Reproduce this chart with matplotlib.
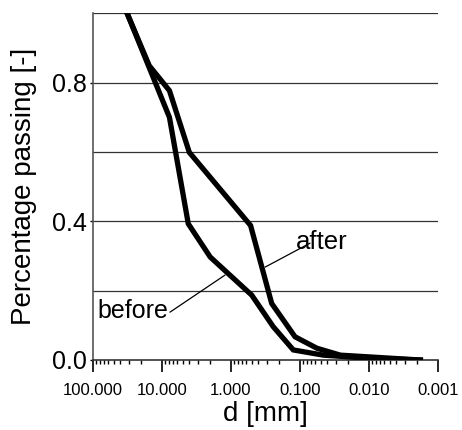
import numpy as np
import matplotlib
matplotlib.use("Agg")
import matplotlib.pyplot as plt
from matplotlib.ticker import LogLocator, FixedLocator, FormatStrFormatter, NullFormatter

plt.rcParams['font.family'] = ['Liberation Sans', 'DejaVu Sans']

# ==========================================================
# DATOS
# ==========================================================
d_before = [32.0, 7.8, 4.16, 2.0, 0.50, 0.244, 0.125, 0.046, 0.0102, 0.0018]
p_before = [1.00, 0.70, 0.393, 0.297, 0.187, 0.096, 0.029, 0.014, 0.005, 0.0]

d_after = [32.0, 15.3, 7.8, 4.02, 0.52, 0.257, 0.118, 0.057, 0.026, 0.0018]
p_after = [1.00, 0.849, 0.777, 0.599, 0.388, 0.163, 0.067, 0.034, 0.014, 0.0]

x_major = [100.0, 10.0, 1.0, 0.1, 0.01, 0.001]
y_ticks = [0.0, 0.4, 0.8]
y_grid = [0.2, 0.4, 0.6, 0.8, 1.0]

# ==========================================================
# FIGURA
# ==========================================================
fig = plt.figure(figsize=(4.62, 4.30), dpi=100)
ax = fig.add_axes([0.2013, 0.1628, 0.948 - 0.2013, 0.969 - 0.1628])

for g in y_grid:
    ax.axhline(g, color="#333333", lw=0.9, zorder=1)

ax.plot(d_before, p_before, color="black", lw=3.8, solid_joinstyle="miter", zorder=3)
ax.plot(d_after, p_after, color="black", lw=3.8, solid_joinstyle="miter", zorder=3)

ax.set_xscale("log")
ax.set_xlim(100, 0.001)
ax.set_ylim(0, 1.0)

ax.xaxis.set_major_locator(FixedLocator(x_major))
ax.xaxis.set_major_formatter(FormatStrFormatter("%.3f"))
ax.xaxis.set_minor_locator(LogLocator(base=10, subs=np.arange(2, 10)))
ax.xaxis.set_minor_formatter(NullFormatter())
ax.tick_params(axis="x", which="major", direction="out", length=8.5, width=1.2,
               labelsize=12, pad=8)
ax.tick_params(axis="x", which="minor", direction="out", length=3, width=1.0)

ax.set_yticks(y_ticks)
ax.yaxis.set_major_formatter(FormatStrFormatter("%.1f"))
ax.tick_params(axis="y", direction="out", length=2.5, width=1.0, labelsize=18, pad=2)

for side in ["top", "right"]:
    ax.spines[side].set_visible(False)
ax.spines["left"].set_color("#555555")
ax.spines["bottom"].set_color("#333333")
ax.spines["left"].set_linewidth(1.2)
ax.spines["bottom"].set_linewidth(1.2)

ax.set_xlabel("d [mm]", fontsize=20, labelpad=2)
ax.set_ylabel("Percentage passing [-]", fontsize=20, labelpad=11)

# etiquetas con lineas guia
ax.text(0.114, 0.34, "after", fontsize=18.5, ha="left", va="center", zorder=4)
ax.annotate("", xy=(0.32, 0.268), xytext=(0.0716, 0.337),
            arrowprops=dict(arrowstyle="-", lw=0.9, color="black",
                            shrinkA=0, shrinkB=0))
ax.text(87.5, 0.141, "before", fontsize=18, ha="left", va="center", zorder=4)
ax.annotate("", xy=(1.22, 0.245), xytext=(7.66, 0.138),
            arrowprops=dict(arrowstyle="-", lw=0.9, color="black",
                            shrinkA=0, shrinkB=0))

fig.savefig("out.png", dpi=100)
